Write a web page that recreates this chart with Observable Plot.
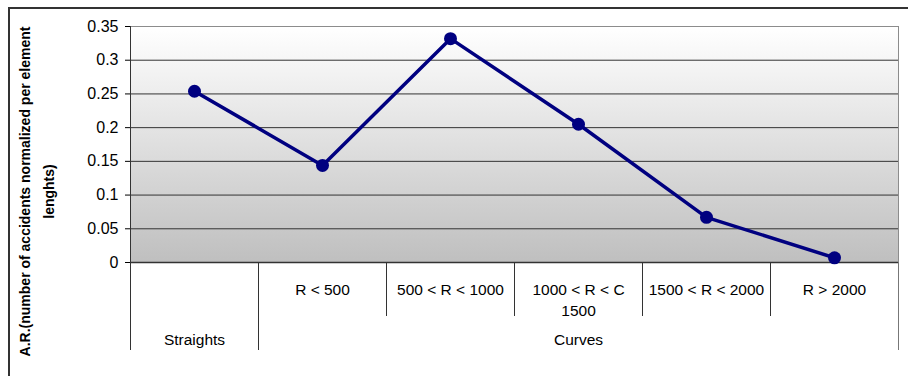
<!DOCTYPE html>
<html>
<head>
<meta charset="utf-8">
<script src="https://cdn.jsdelivr.net/npm/d3@7"></script>
<script src="https://cdn.jsdelivr.net/npm/@observablehq/plot@0.6"></script>
<style>
  html, body { margin: 0; padding: 0; background: #fff; overflow: hidden; }
  #wrap { position: relative; width: 908px; height: 376px; }
  #border { position: absolute; left: 8px; top: 7px; width: 1000px; height: 500px;
            border-top: 2px solid #333; border-left: 2px solid #333; pointer-events: none; z-index: 2; }
  #chart { position: absolute; left: 0; top: 0; }
</style>
</head>
<body>
<div id="wrap"><div id="border"></div><div id="chart"></div></div>
<script>
// ---- data ----
const groups = ["Straights", "Curves"];
const groupSizes = [1, 5];
const subLabels = ["", "R < 500", "500 < R < 1000", "1000 < R < C\n1500", "1500 < R < 2000", "R > 2000"];
const values = [0.254, 0.144, 0.332, 0.205, 0.067, 0.007];
const yTicks = [0, 0.05, 0.1, 0.15, 0.2, 0.25, 0.3, 0.35];
const yTitle = "A.R.(number of accidents normalized per element\nlenghts)";

// ---- layout ----
const W = 908, H = 376, mL = 130, mR = 10, mT = 26, mB = 114;
const step = (W - mL - mR) / subLabels.length;
const plotH = H - mT - mB;

const rows = subLabels.map((s, i) => ({i, sub: s, value: values[i]}));

// category edges: first category of each group gets a tall (outer) separator
const innerEdges = [], outerEdges = [];
let start = 0;
const groupRows = [];
groups.forEach((g, gi) => {
  for (let k = 0; k < groupSizes[gi]; k++) {
    (k === 0 ? outerEdges : innerEdges).push({i: start + k});
  }
  groupRows.push({name: g, i: start + (groupSizes[gi] - 1) / 2});
  start += groupSizes[gi];
});
const firstEdge = [{i: 0}];
const lastEdge = [{i: subLabels.length - 1}];

const defs = () => {
  const d = d3.create("svg:defs");
  const lg = d.append("linearGradient").attr("id", "bgGrad")
    .attr("x1", 0).attr("y1", 0).attr("x2", 0).attr("y2", 1);
  lg.append("stop").attr("offset", "0%").attr("stop-color", "#ffffff");
  lg.append("stop").attr("offset", "100%").attr("stop-color", "#bfbfbf");
  return d.node();
};

const chart = Plot.plot({
  width: W, height: H,
  marginLeft: mL, marginRight: mR, marginTop: mT, marginBottom: mB,
  style: {fontFamily: "'Liberation Sans', Arial, sans-serif", fontSize: "16px", color: "#000", background: "transparent"},
  x: {type: "point", domain: d3.range(subLabels.length), padding: 0.5, axis: null},
  y: {domain: [0, 0.35], ticks: yTicks, tickSize: 5, tickPadding: 7, tickFormat: d => String(d), label: null},
  marks: [
    defs,
    Plot.frame({fill: "url(#bgGrad)", stroke: "#8c8c8c"}),
    Plot.ruleY(yTicks.filter(t => t > 0 && t < 0.35), {stroke: "#333", strokeWidth: 1}),
    Plot.ruleY([0], {stroke: "#333", strokeWidth: 1.5}),
    // left axis line, continuing down as the outer border of the category table
    Plot.ruleX(firstEdge, {x: "i", dx: -step / 2, insetTop: 0, insetBottom: -88, stroke: "#333"}),
    // separators of the category table
    Plot.ruleX(innerEdges, {x: "i", dx: -step / 2, insetTop: plotH, insetBottom: -54, stroke: "#333"}),
    Plot.ruleX(outerEdges.slice(1), {x: "i", dx: -step / 2, insetTop: plotH, insetBottom: -88, stroke: "#333"}),
    Plot.ruleX(lastEdge, {x: "i", dx: step / 2, insetTop: plotH, insetBottom: -88, stroke: "#777"}),
    // data
    Plot.line(rows, {x: "i", y: "value", stroke: "#000080", strokeWidth: 3.5}),
    Plot.dot(rows, {x: "i", y: "value", r: 6.5, fill: "#000080", stroke: "none"}),
    // category labels
    Plot.text(rows, {x: "i", text: "sub", frameAnchor: "bottom", lineAnchor: "top", dy: 17.5,
                     fontSize: 15.5, lineHeight: 21 / 15.5}),
    Plot.text(groupRows, {x: "i", text: "name", frameAnchor: "bottom", lineAnchor: "top", dy: 71.5,
                          fontSize: 15.5}),
    // y title
    Plot.text([yTitle], {text: d => d, frameAnchor: "left", textAnchor: "middle", lineAnchor: "middle",
                         rotate: -90, dx: -96, dy: 47, fontWeight: "bold", fontSize: 14,
                         lineHeight: 24 / 14})
  ]
});
document.getElementById("chart").appendChild(chart);
</script>
</body>
</html>
